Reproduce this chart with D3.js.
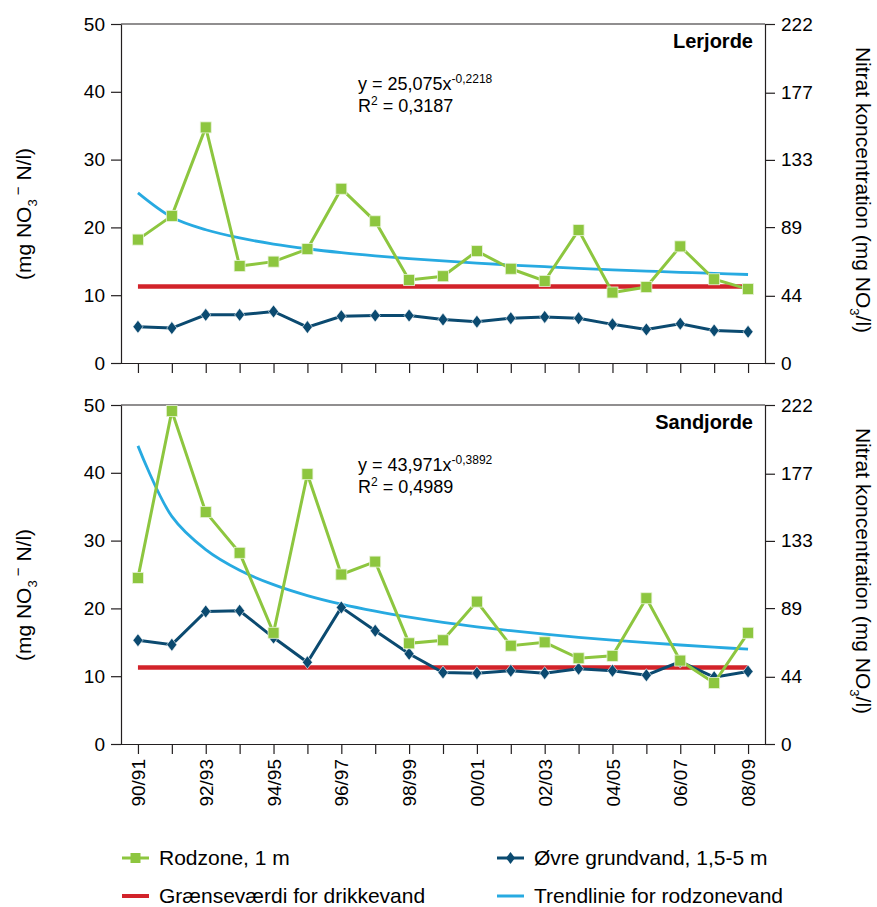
<!DOCTYPE html>
<html>
<head>
<meta charset="utf-8">
<script src="https://cdn.jsdelivr.net/npm/d3@7"></script>
<style>
  body { margin: 0; background: #fff; }
  svg { display: block; font-family: "Liberation Sans", Arial, Helvetica, sans-serif; }
</style>
</head>
<body>
<svg id="chart" width="877" height="907"></svg>
<script>
// ---- Data ----
const categories = ["90/91","91/92","92/93","93/94","94/95","95/96","96/97","97/98","98/99","99/00",
                    "00/01","01/02","02/03","03/04","04/05","05/06","06/07","07/08","08/09"];
const xTickLabels = ["90/91","92/93","94/95","96/97","98/99","00/01","02/03","04/05","06/07","08/09"];
const leftTicks = [0, 10, 20, 30, 40, 50];
const rightTicks = [0, 44, 89, 133, 177, 222];

// Lerjorde
const lerRodzone = [18.2, 21.7, 34.75, 14.3, 14.95, 16.8, 25.7, 20.9, 12.25, 12.8,
                    16.5, 13.9, 12.1, 19.6, 10.4, 11.2, 17.2, 12.35, 10.9];
const lerGrundvand = [5.35, 5.15, 7.1, 7.1, 7.6, 5.3, 6.9, 7.0, 7.0, 6.4,
                      6.1, 6.6, 6.8, 6.6, 5.7, 4.95, 5.8, 4.8, 4.6];
const lerTrend = [25.08, 21.50, 19.65, 18.44, 17.55, 16.85, 16.28, 15.81, 15.40, 15.05,
                  14.73, 14.45, 14.20, 13.96, 13.75, 13.56, 13.38, 13.21, 13.05];

// Sandjorde
const sandRodzone = [24.5, 49.1, 34.2, 28.2, 16.4, 39.8, 25.0, 26.9, 14.85, 15.3,
                     21.0, 14.5, 15.0, 12.65, 13.0, 21.5, 12.3, 9.0, 16.4];
const sandGrundvand = [15.3, 14.65, 19.55, 19.65, 15.7, 12.05, 20.15, 16.7, 13.3, 10.55,
                       10.45, 10.8, 10.45, 11.1, 10.8, 10.15, 12.15, 9.85, 10.7];
const sandTrend = [43.97, 33.57, 28.67, 25.63, 23.50, 21.89, 20.62, 19.58, 18.70, 17.94,
                   17.29, 16.72, 16.20, 15.74, 15.32, 14.94, 14.60, 14.28, 13.98];

const limitValue = 11.3;

const panels = [
  { title: "Lerjorde", rod: lerRodzone, gw: lerGrundvand, trend: lerTrend,
    eqA: "y = 25,075x", eqExp: "-0,2218", r2: "0,3187" },
  { title: "Sandjorde", rod: sandRodzone, gw: sandGrundvand, trend: sandTrend,
    eqA: "y = 43,971x", eqExp: "-0,3892", r2: "0,4989" }
];

const legendItems = [
  { label: "Rodzone, 1 m", type: "rod" },
  { label: "Øvre grundvand, 1,5-5 m", type: "gw" },
  { label: "Grænseværdi for drikkevand", type: "limit" },
  { label: "Trendlinie for rodzonevand", type: "trend" }
];

// ---- Styles ----
const C = {
  green: "#8dc63f",
  blue: "#0b4a70",
  red: "#d2232a",
  trend: "#27aae1",
  axis: "#231f20"
};

const svg = d3.select("#chart");
const L = 121, R = 765;
const panelTops = [24, 405];
const panelH = 339;

const x = d3.scalePoint().domain(categories).range([L, R]).padding(0.5);

panels.forEach((p, i) => {
  const top = panelTops[i], bottom = top + panelH;
  const y = d3.scaleLinear().domain([0, 50]).range([bottom, top]);
  const y2 = d3.scaleLinear().domain([0, 222]).range([bottom, top]);
  const g = svg.append("g");

  // frame
  g.append("line").attr("x1", L).attr("x2", R).attr("y1", top).attr("y2", top)
    .attr("stroke", C.axis).attr("stroke-width", 1.2);

  const la = g.append("g").attr("transform", `translate(${L},0)`)
    .call(d3.axisLeft(y).tickValues(leftTicks).tickSize(10).tickPadding(6).tickSizeOuter(0));
  const ra = g.append("g").attr("transform", `translate(${R},0)`)
    .call(d3.axisRight(y2).tickValues(rightTicks).tickSize(10).tickPadding(6).tickSizeOuter(0));
  const ba = g.append("g").attr("transform", `translate(0,${bottom})`)
    .call(d3.axisBottom(x).tickSize(10).tickSizeOuter(0).tickFormat(d => (i === 1 && xTickLabels.includes(d)) ? d : ""));
  [la, ra, ba].forEach(a => {
    a.select(".domain").attr("stroke", C.axis).attr("stroke-width", 1.2);
    a.selectAll(".tick line").attr("stroke", C.axis).attr("stroke-width", 1.2);
    a.selectAll("text").attr("fill", "#000").style("font-size", "19px")
      .style("font-family", '"Liberation Sans", Arial, sans-serif');
  });
  ba.select(".domain").attr("d", `M${L - 10},0.5H${R}`);
  if (i === 1) {
    ba.selectAll(".tick text")
      .attr("transform", "rotate(-90)")
      .attr("text-anchor", "end")
      .attr("x", -15).attr("y", 0).attr("dy", "0.35em");
  }

  // trend line
  const line = d3.line().x((d, j) => x(categories[j])).y(d => y(d));
  g.append("path").datum(p.trend)
    .attr("d", line.curve(d3.curveCatmullRom.alpha(0.5)))
    .attr("fill", "none").attr("stroke", C.trend).attr("stroke-width", 2.8);

  // limit line
  g.append("line")
    .attr("x1", x(categories[0])).attr("x2", x(categories[categories.length - 1]))
    .attr("y1", y(limitValue)).attr("y2", y(limitValue))
    .attr("stroke", C.red).attr("stroke-width", 4.5);

  const lineStraight = d3.line().x((d, j) => x(categories[j])).y(d => y(d));
  g.append("path").datum(p.gw).attr("d", lineStraight)
    .attr("fill", "none").attr("stroke", C.blue).attr("stroke-width", 3);
  g.selectAll(".dia").data(p.gw).enter().append("path")
    .attr("transform", (d, j) => `translate(${x(categories[j])},${y(d)})`)
    .attr("d", "M0,-6.5L5,0L0,6.5L-5,0Z")
    .attr("fill", C.blue).attr("stroke", "#fff").attr("stroke-width", 0.6);

  g.append("path").datum(p.rod).attr("d", lineStraight)
    .attr("fill", "none").attr("stroke", C.green).attr("stroke-width", 3);
  g.selectAll(".sq").data(p.rod).enter().append("rect")
    .attr("x", (d, j) => x(categories[j]) - 5.5).attr("y", d => y(d) - 5.5)
    .attr("width", 11).attr("height", 11)
    .attr("fill", C.green).attr("stroke", "#e8f3d8").attr("stroke-width", 0.8);

  // title
  g.append("text").attr("x", 753).attr("y", top + 24)
    .attr("text-anchor", "end").attr("font-weight", "bold").style("font-size", "20px")
    .text(p.title);

  // equation
  const eq = g.append("text").attr("x", 358).attr("y", top + 66).style("font-size", "18px");
  eq.append("tspan").text(p.eqA);
  eq.append("tspan").attr("dy", -7).style("font-size", "12px").text(p.eqExp);
  const r2 = g.append("text").attr("x", 358).attr("y", top + 88).style("font-size", "18px");
  r2.append("tspan").text("R");
  r2.append("tspan").attr("dy", -7).style("font-size", "12px").text("2");
  r2.append("tspan").attr("dy", 7).text(" = " + p.r2);

  // left label
  const ll = g.append("text")
    .attr("transform", `translate(31,${top + 190}) rotate(-90)`)
    .attr("text-anchor", "middle").style("font-size", "21px");
  ll.append("tspan").text("(mg NO");
  ll.append("tspan").attr("dy", 6).style("font-size", "13px").text("3");
  ll.append("tspan").attr("dy", -14).style("font-size", "15px").text(" −");
  ll.append("tspan").attr("dy", 8).text(" N/l)");

  // right label
  const rl = g.append("text")
    .attr("transform", `translate(856,${top + 166}) rotate(90)`)
    .attr("text-anchor", "middle").style("font-size", "21px");
  rl.append("tspan").text("Nitrat koncentration (mg NO");
  rl.append("tspan").attr("dy", 6).style("font-size", "13px").text("3");
  rl.append("tspan").attr("dy", -6).text("/l)");
});

// ---- Legend ----
const legPos = [[122, 858], [497, 858], [122, 896], [497, 896]];
legendItems.forEach((it, k) => {
  const [lx, ly] = legPos[k];
  const lg = svg.append("g").attr("transform", `translate(${lx},${ly})`);
  if (it.type === "rod") {
    lg.append("line").attr("x1", 0).attr("x2", 27).attr("stroke", C.green).attr("stroke-width", 3);
    lg.append("rect").attr("x", 8.5).attr("y", -5).attr("width", 10).attr("height", 10).attr("fill", C.green);
  } else if (it.type === "gw") {
    lg.append("line").attr("x1", 0).attr("x2", 27).attr("stroke", C.blue).attr("stroke-width", 3);
    lg.append("path").attr("transform", "translate(13.5,0)").attr("d", "M0,-6L4.5,0L0,6L-4.5,0Z").attr("fill", C.blue);
  } else if (it.type === "limit") {
    lg.append("line").attr("x1", 0).attr("x2", 27).attr("stroke", C.red).attr("stroke-width", 4);
  } else {
    lg.append("line").attr("x1", 0).attr("x2", 27).attr("stroke", C.trend).attr("stroke-width", 3);
  }
  lg.append("text").attr("x", 37).attr("y", 0).attr("dy", "0.35em")
    .style("font-size", "21px").text(it.label);
});
</script>
</body>
</html>
